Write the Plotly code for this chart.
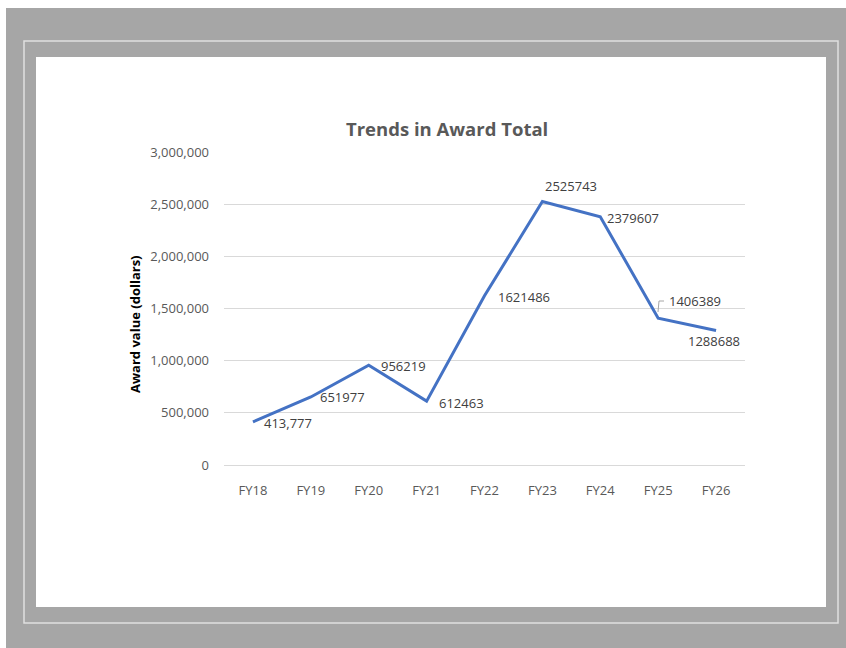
import plotly.graph_objects as go

categories = ["FY18", "FY19", "FY20", "FY21", "FY22", "FY23", "FY24", "FY25", "FY26"]
award_totals = [413777, 651977, 956219, 612463, 1621486, 2525743, 2379607, 1406389, 1288688]
label_texts = ["413,777", "651977", "956219", "612463", "1621486", "2525743", "2379607", "1406389", "1288688"]
y_tick_vals = [0, 500000, 1000000, 1500000, 2000000, 2500000, 3000000]

W, H = 846, 648

def px(x):
    return x / W

def py(y):
    return 1 - y / H

fig = go.Figure()
fig.add_trace(go.Scatter(
    x=categories, y=award_totals, mode="lines",
    line=dict(color="#4472C4", width=3),
    hoverinfo="x+y", showlegend=False,
))

# label offsets (xanchor, xshift, yshift)
label_style = [
    ("left", 9, -1),
    ("left", 7, 0),
    ("left", 10, -1),
    ("left", 10, -2),
    ("left", 11, -1),
    ("center", 29, 15),
    ("left", 5, -1),
    ("left", 9, 17),
    ("center", -2, -10),
]
annotations = []
for c, v, t, (xa, xs, ys) in zip(categories, award_totals, label_texts, label_style):
    annotations.append(dict(
        x=c, y=v, xref="x", yref="y", text=t, showarrow=False,
        xanchor=xa, yanchor="middle", xshift=xs, yshift=ys,
        font=dict(family="Open Sans", size=13, color="#404040"),
    ))

annotations.append(dict(
    x=px(447), y=py(128), xref="paper", yref="paper",
    text="<b>Trends in Award Total</b>", showarrow=False,
    xanchor="center", yanchor="middle",
    font=dict(family="Open Sans", size=18.5, color="#595959"),
))
annotations.append(dict(
    x=px(135), y=py(324), xref="paper", yref="paper",
    text="<b>Award value (dollars)</b>", showarrow=False, textangle=-90,
    xanchor="center", yanchor="middle",
    font=dict(family="Open Sans", size=13, color="#000000"),
))

shapes = [
    # gray outer background
    dict(type="rect", xref="paper", yref="paper", x0=px(6), x1=1, y0=0, y1=py(8),
         fillcolor="#a6a6a6", line=dict(width=0), layer="below"),
    # light inner border line
    dict(type="rect", xref="paper", yref="paper", x0=px(24), x1=px(838), y0=py(623), y1=py(41),
         fillcolor="rgba(0,0,0,0)", line=dict(color="#e0e0e0", width=1.5), layer="below"),
    # white panel
    dict(type="rect", xref="paper", yref="paper", x0=px(36), x1=px(826), y0=py(607), y1=py(57),
         fillcolor="#ffffff", line=dict(width=0), layer="below"),
    # leader line for FY25 label
    dict(type="path", xref="paper", yref="paper",
         path=f"M {px(658)} {py(312)} L {px(659)} {py(301)} L {px(664)} {py(301)}",
         line=dict(color="#a6a6a6", width=1)),
]

fig.update_layout(
    width=W, height=H,
    margin=dict(l=0, r=0, t=0, b=0, pad=0, autoexpand=False),
    paper_bgcolor="#ffffff", plot_bgcolor="rgba(0,0,0,0)",
    annotations=annotations, shapes=shapes,
    xaxis=dict(
        domain=[px(224), px(745)], type="category", range=[-0.5, 8.5], automargin=False,
        showgrid=False, zeroline=False, showline=True, linecolor="#d9d9d9", linewidth=1,
        ticks="", ticklabelstandoff=13,
        tickfont=dict(family="Open Sans", size=13, color="#595959"),
    ),
    yaxis=dict(
        domain=[py(465), py(152)], range=[0, 3000000], automargin=False,
        tickvals=y_tick_vals, tickformat=",",
        showgrid=True, gridcolor="#d9d9d9", gridwidth=1, zeroline=False, showline=False,
        ticks="", ticklabelstandoff=14,
        tickfont=dict(family="Open Sans", size=13, color="#595959"),
    ),
)

fig.write_html("out.html")
